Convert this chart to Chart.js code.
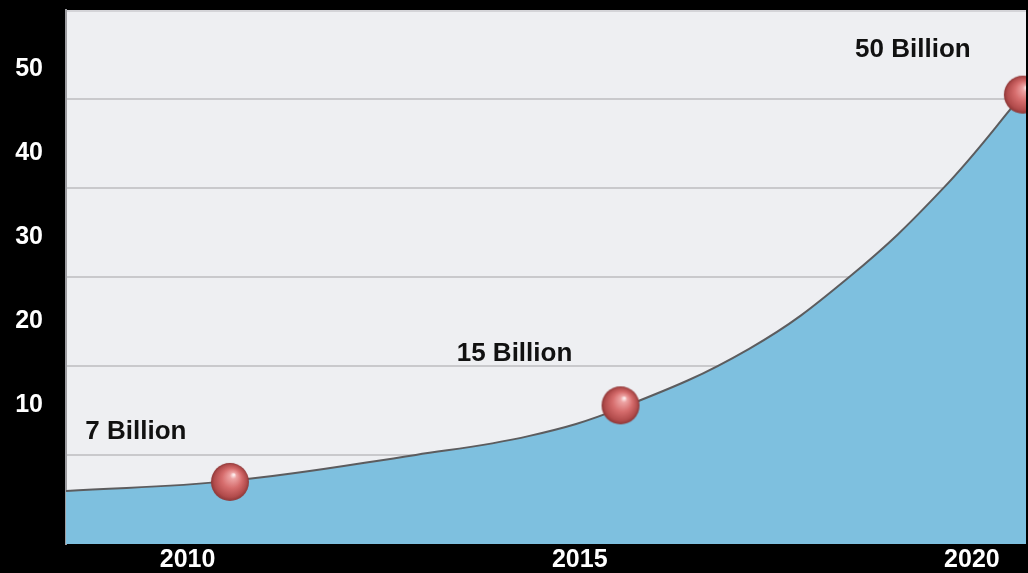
<!DOCTYPE html>
<html>
<head>
<meta charset="utf-8">
<script src="https://cdn.jsdelivr.net/npm/chart.js@4/dist/chart.umd.min.js"></script>
<style>
  html, body { margin: 0; padding: 0; background: #000; }
  canvas { display: block; }
</style>
</head>
<body>
<canvas id="growth" width="1028" height="573"></canvas>
<script>
// tick labels
const yearTicks = [2010, 2015, 2020];
const valueTicks = [10, 20, 30, 40, 50];

// the blue curve (year, value on the left scale)
const curveYears = [2008.45, 2010.55, 2012.91, 2014.36, 2015.53, 2017.16, 2018.44, 2019.63, 2020.69];
const curveValues = [-0.27, 0.93, 4.03, 6.3, 9.64, 16.69, 25.28, 35.79, 47.5];

// the red balls and their captions
const markerYears = [2010.54, 2015.52, 2020.65];
const markerValues = [0.81, 9.94, 47.0];
const markerLabels = ["7 Billion", "15 Billion", "50 Billion"];

// caption placement relative to each ball (px)
const labelShift = [[-94, -50], [-106, -52], [-110, -45]];

function makeSphere(r) {
  const c = document.createElement("canvas");
  c.width = c.height = 2 * r + 2;
  const g = c.getContext("2d");
  const cx = r + 1, cy = r + 1;
  const grad = g.createRadialGradient(cx + r * 0.2, cy - r * 0.38, r * 0.04, cx, cy, r);
  grad.addColorStop(0, "#fdeaea");
  grad.addColorStop(0.14, "#eda3a3");
  grad.addColorStop(0.5, "#d66d6d");
  grad.addColorStop(0.85, "#b24c4c");
  grad.addColorStop(1, "#8c3636");
  g.fillStyle = grad;
  g.beginPath();
  g.arc(cx, cy, r, 0, Math.PI * 2);
  g.fill();
  return c;
}

// no automatic room for overhanging tick labels
function noPadding(s) {
  s.paddingTop = 0;
  s.paddingBottom = 0;
  s.paddingLeft = 0;
  s.paddingRight = 0;
}

const plotBackground = {
  id: "plotBackground",
  beforeDraw(chart) {
    const { ctx, chartArea: a } = chart;
    ctx.save();
    ctx.fillStyle = "#eeeff2";
    ctx.fillRect(a.left, a.top, a.right - a.left, a.bottom - a.top);
    ctx.fillStyle = "#d4d4d8";
    ctx.fillRect(a.left, a.top, a.right - a.left, 2);
    ctx.restore();
  }
};

const captions = {
  id: "captions",
  afterDatasetsDraw(chart) {
    const { ctx } = chart;
    const meta = chart.getDatasetMeta(1);
    ctx.save();
    ctx.font = "bold 26px 'Liberation Sans', Arial, sans-serif";
    ctx.fillStyle = "#111";
    ctx.textAlign = "center";
    ctx.textBaseline = "middle";
    meta.data.forEach((p, i) => {
      ctx.fillText(markerLabels[i], p.x + labelShift[i][0], p.y + labelShift[i][1]);
    });
    ctx.restore();
  }
};

const tickFont = { family: "'Liberation Sans', Arial, sans-serif", size: 25, weight: "bold" };

new Chart(document.getElementById("growth"), {
  type: "line",
  data: {
    datasets: [
      {
        data: curveYears.map((x, i) => ({ x, y: curveValues[i] })),
        borderColor: "#5c5c5e",
        borderWidth: 2,
        backgroundColor: "#7ec0df",
        fill: "start",
        pointRadius: 0,
        tension: 0.4,
        order: 2,
        clip: 0
      },
      {
        data: markerYears.map((x, i) => ({ x, y: markerValues[i] })),
        showLine: false,
        pointStyle: makeSphere(19),
        pointRadius: 19,
        order: 1,
        clip: 0
      }
    ]
  },
  options: {
    responsive: false,
    animation: false,
    layout: { autoPadding: false, padding: { top: 10, right: 2, left: 0, bottom: 0 } },
    plugins: { legend: { display: false }, tooltip: { enabled: false } },
    scales: {
      x: {
        type: "linear",
        min: 2008.45,
        max: 2020.69,
        afterBuildTicks: s => { s.ticks = yearTicks.map(v => ({ value: v })); },
        afterFit: s => { s.height = 29; noPadding(s); },
        grid: { display: false },
        border: { display: false },
        ticks: { color: "#fff", font: tickFont, padding: -7, maxRotation: 0, callback: v => String(v) }
      },
      y: {
        min: -6.6,
        max: 57.1,
        afterBuildTicks: s => { s.ticks = valueTicks.map(v => ({ value: v })); },
        afterFit: s => { s.width = 66; noPadding(s); },
        grid: { display: false, drawTicks: false },
        border: { display: true, color: "#9c9ca0", width: 2 },
        ticks: { color: "#fff", font: tickFont, padding: 23, callback: v => String(v) }
      },
      yGrid: {
        position: "right",
        min: 0,
        max: 6,
        afterFit: s => { s.width = 0; noPadding(s); },
        ticks: { stepSize: 1, display: false },
        border: { display: false },
        grid: {
          drawTicks: false,
          lineWidth: 2,
          color: c => (c.tick && (c.tick.value === 0 || c.tick.value === 6)) ? "rgba(0,0,0,0)" : "#c9c9cc"
        }
      }
    }
  },
  plugins: [plotBackground, captions]
});
</script>
</body>
</html>
